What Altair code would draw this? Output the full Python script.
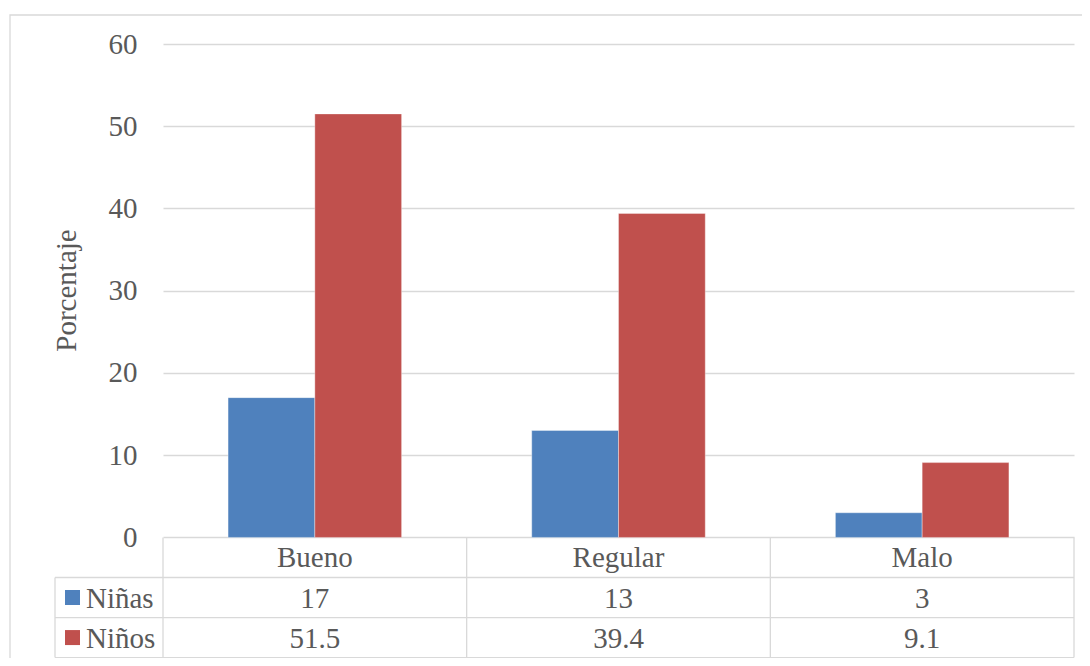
import altair as alt
import pandas as pd

categories = ["Bueno", "Regular", "Malo"]
series = ["Niñas", "Niños"]
ninas = [17, 13, 3]
ninos = [51.5, 39.4, 9.1]
y_ticks = [0, 10, 20, 30, 40, 50, 60]
colors = ["#4f81bd", "#c0504d"]

FONT = "Times New Roman, Liberation Serif, DejaVu Serif, serif"
FS = 29
TXT = "#595959"
GRID = "#d9d9d9"
W, H = 911, 614
ROW = 4.87  # table row height in y units

values = {"Niñas": ninas, "Niños": ninos}
rows = []
for si, s in enumerate(series):
    for ci, c in enumerate(categories):
        v = values[s][ci]
        rows.append({"cat": c, "series": s, "value": v, "label": f"{v:g}",
                     "rowy": -ROW * (si + 1) - ROW / 2})
df = pd.DataFrame(rows)
hdr = pd.DataFrame({"cat": categories, "rowy": [-ROW / 2] * len(categories)})
leg = pd.DataFrame({"series": series, "rowy": [-ROW * (i + 1) - ROW / 2 for i in range(len(series))]})
hlines = pd.DataFrame({"y": [-ROW * (i + 1) for i in range(len(series) + 1)]})
vstart = pd.DataFrame({"cat": categories})
vend = pd.DataFrame({"cat": [categories[-1]]})
bottom = -ROW * (len(series) + 1)

xscale = alt.Scale(domain=categories, paddingInner=0, paddingOuter=0)
yscale = alt.Scale(domain=[bottom - 0.05, 60], nice=False, zero=False)
cscale = alt.Scale(domain=series, range=colors)

border = alt.Chart(alt.Data(values=[{}])).mark_rect(
    fillOpacity=0, stroke=GRID, strokeWidth=1.3
).encode(x=alt.value(-153), x2=alt.value(W + 200), y=alt.value(-29), y2=alt.value(H + 100))

bars = alt.Chart(df).mark_bar(stroke="white", strokeWidth=0.6, strokeOpacity=0.6).encode(
    x=alt.X("cat:N", scale=xscale, sort=categories, axis=None),
    xOffset=alt.XOffset("series:N", scale=alt.Scale(domain=series, paddingOuter=0.75, paddingInner=0)),
    y=alt.Y("value:Q", scale=yscale, title="Porcentaje",
            axis=alt.Axis(values=y_ticks, grid=True, gridColor=GRID, gridWidth=1.3,
                          domain=False, ticks=False, labelFont=FONT, labelFontSize=FS,
                          labelColor=TXT, labelPadding=26, titleFont=FONT, titleFontSize=FS,
                          titleColor=TXT, titleFontWeight="normal", titleX=-97, titleY=246,
                          titleAngle=270, titleBaseline="middle", titleAlign="center")),
    color=alt.Color("series:N", scale=cscale, legend=None),
)

hl = alt.Chart(hlines).mark_rule(color=GRID, strokeWidth=1.3).encode(
    x=alt.value(-108), x2=alt.value(W), y=alt.Y("y:Q", scale=yscale))
vl0 = alt.Chart(alt.Data(values=[{}])).mark_rule(color=GRID, strokeWidth=1.3).encode(
    x=alt.value(-108), y=alt.datum(-ROW, scale=yscale), y2=alt.datum(bottom))
vls = alt.Chart(vstart).mark_rule(color=GRID, strokeWidth=1.3).encode(
    x=alt.X("cat:N", scale=xscale, bandPosition=0), y=alt.datum(0), y2=alt.datum(bottom))
vle = alt.Chart(vend).mark_rule(color=GRID, strokeWidth=1.3).encode(
    x=alt.X("cat:N", scale=xscale, bandPosition=1), y=alt.datum(0), y2=alt.datum(bottom))

htxt = alt.Chart(hdr).mark_text(font=FONT, fontSize=FS, color=TXT, baseline="middle", dy=1).encode(
    x=alt.X("cat:N", scale=xscale), y=alt.Y("rowy:Q", scale=yscale), text="cat:N")
vtxt = alt.Chart(df).mark_text(font=FONT, fontSize=FS, color=TXT, baseline="middle", dy=1).encode(
    x=alt.X("cat:N", scale=xscale), y=alt.Y("rowy:Q", scale=yscale), text="label:N")

lsq = alt.Chart(leg).mark_point(shape="square", filled=True, size=225, opacity=1).encode(
    x=alt.value(-90.5), y=alt.Y("rowy:Q", scale=yscale),
    color=alt.Color("series:N", scale=cscale, legend=None))
ltxt = alt.Chart(leg).mark_text(font=FONT, fontSize=FS, color=TXT, align="left", baseline="middle", dy=1).encode(
    x=alt.value(-77), y=alt.Y("rowy:Q", scale=yscale), text="series:N")

chart = alt.layer(border, bars, hl, vl0, vls, vle, htxt, vtxt, lsq, ltxt).properties(
    width=W, height=H,
    padding={"left": 155, "top": 36, "right": 8, "bottom": 0},
    autosize=alt.AutoSizeParams(type="none"),
).configure_view(strokeWidth=0)

chart.save("out.html", embed_options={"renderer": "svg", "actions": False})
